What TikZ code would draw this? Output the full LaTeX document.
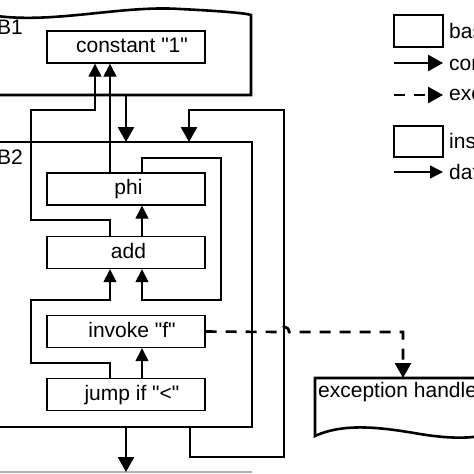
\documentclass[tikz,border=0pt]{standalone}
\usepackage{fontspec}
\newfontfamily\arialfont{Liberation Sans}
\usetikzlibrary{arrows.meta,calc}
\begin{document}
\begin{tikzpicture}[x=1pt,y=-1pt,
  font=\arialfont\fontsize{21}{25}\selectfont,
  blockline/.style={line width=2.6pt},
  instr/.style={draw, line width=1.4pt, minimum width=158pt, minimum height=32pt, inner sep=0pt, text height=15.5pt, text depth=4.4pt},
  ctrl/.style={line width=2.6pt, -{Triangle[length=15pt,width=16pt]}},
  dataedge/.style={line width=1.4pt, -{Triangle[length=13pt,width=13pt]}},
  exc/.style={line width=2.6pt, dash pattern=on 11pt off 9pt, -{Triangle[length=15pt,width=16pt]}},
  lbl/.style={anchor=west, inner sep=0pt}
]
\useasboundingbox (0,0) rectangle (474,474);
\clip (0,0) rectangle (474,474);

% next block (gray)
\draw[gray!60, line width=2.6pt] (-10,472) -- (252,472);

% block B1
\draw[blockline] (-10,15) .. controls (50,25) and (120,5) .. (180,9) .. controls (220,11) and (245,13) .. (251,15) -- (251,95) -- (-10,95);
\node[lbl] (B1) at (-3,27) {B1};

% block B2
\draw[blockline] (-10,142) -- (252,142) -- (252,427) -- (-10,427);
\node[lbl] (B2) at (-3,157) {B2};

% instructions
\node[instr] (const) at (126,47) {\hspace*{12pt}constant "1"};
\node[instr] (phi) at (126,189) {\hspace*{5pt}phi};
\node[instr] (add) at (126,252.5) {\hspace*{5pt}add};
\node[instr] (invoke) at (126,331.5) {\hspace*{12pt}invoke "f"};
\node[instr] (jump) at (126,394.5) {\hspace*{12pt}jump if "<"};

% control flow
\coordinate (b1out) at (126,95);
\coordinate (b2in) at (126,142);
\coordinate (b2inR) at (189,142);
\coordinate (b2outR) at (190,427);
\coordinate (b2out) at (126,427);
\coordinate (b3in) at (126,472);
\draw[ctrl] (b1out) -- (b2in);
\draw[ctrl] (b2outR) -- (190,457) -- (284,457) -- (284,110) -- (189,110) -- (b2inR);
\draw[ctrl] (b2out) -- (b3in);

% data flow
\draw[dataedge] ([xshift=-16pt]phi.north) -- ([xshift=-16pt]const.south);
\draw[dataedge] ([xshift=-16pt]add.north) -- (110,220) -- (31,220) -- (31,110) -- (95,110) -- ([xshift=-31pt]const.south);
\draw[dataedge] ([xshift=16pt]add.north) -- ([xshift=16pt]phi.south);
\draw[dataedge] ([xshift=16pt]phi.north) -- (142,158) -- (221,158) -- (221,300) -- (142,300) -- ([xshift=16pt]add.south);
\draw[dataedge] ([xshift=-16pt]jump.north) -- (110,363) -- (31,363) -- (31,300) -- (110,300) -- ([xshift=-16pt]add.south);
\draw[dataedge] ([xshift=16pt]jump.north) -- ([xshift=16pt]invoke.south);

% exception handler
\draw[blockline] (480,378) -- (315,378) -- (315,436) .. controls (345,422) and (385,428) .. (420,434) .. controls (450,439) and (470,438) .. (480,436);
\node[lbl] (exh) at (318,392) {exception handler};
\coordinate (exhin) at (403,378);
\draw[exc] (invoke.east) -- (279,332) .. controls (279,325) and (289,325) .. (289,332) -- (403,332) -- (exhin);

% legend
\draw[blockline] (394,15) rectangle (443,47);
\node[lbl] (lg1) at (449,31) {basic block};
\coordinate (lc1) at (394,63); \coordinate (lc2) at (443,63);
\draw[ctrl] (lc1) -- (lc2);
\node[lbl] (lg2) at (449,63) {control flow};
\coordinate (le1) at (394,95); \coordinate (le2) at (443,95);
\draw[exc] (le1) -- (le2);
\node[lbl] (lg3) at (449,95) {exception edge};
\draw[line width=1.4pt] (394,126) rectangle (443,157);
\node[lbl] (lg4) at (449,141) {instruction};
\coordinate (ld1) at (394,172); \coordinate (ld2) at (443,172);
\draw[dataedge] (ld1) -- (ld2);
\node[lbl] (lg5) at (449,172) {data flow};
\end{tikzpicture}
\end{document}
